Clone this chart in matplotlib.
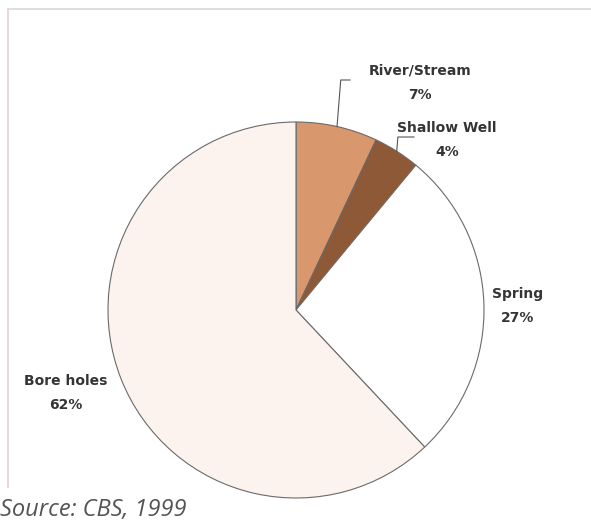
import numpy as np
import matplotlib
matplotlib.use("Agg")
import matplotlib.pyplot as plt
from matplotlib.patches import Wedge

categories = ["River/Stream", "Shallow Well", "Spring", "Bore holes"]
values = [7, 4, 27, 62]
colors = ["#d9976e", "#8e5936", "#ffffff", "#fdf3ee"]
source = "Source: CBS, 1999"

W, H = 591, 523
fig = plt.figure(figsize=(W / 100, H / 100), dpi=100)
ax = fig.add_axes([0, 0, 1, 1])
ax.axis("off")

cx, cy, R = 296, 310, 188
start = 90.0
total = sum(values)
mids = []
for v, c in zip(values, colors):
    span = 360.0 * v / total
    t1 = -start
    t2 = -start + span
    wd = Wedge((cx, cy), R, t1, t2, facecolor=c, edgecolor="#6a6a6a", linewidth=0.8)
    ax.add_patch(wd)
    mids.append(np.deg2rad((t1 + t2) / 2))
    start -= span

ax.set_aspect("equal")
ax.set_xlim(0, W)
ax.set_ylim(H, 0)

fs = 10
tc = "#353535"
fam = ["DejaVu Sans"]

def leader(i, elbow_y, end_x):
    a = mids[i]
    px, py = cx + R * np.cos(a), cy + R * np.sin(a)
    ex = px + (py - elbow_y) * 0.08
    ax.plot([px, ex, end_x], [py, elbow_y, elbow_y], color="#555555", lw=0.8)

leader(0, 80, 350)
leader(1, 137, 414)

labels_pos = [(420, 71), (447, 128), (518, 294), (66, 381)]
for (x, y), name, v in zip(labels_pos, categories, values):
    ax.text(x, y, name, ha="center", va="center", fontsize=fs, fontweight="bold",
            color=tc, family=fam)
    ax.text(x, y + 24, f"{v}%", ha="center", va="center", fontsize=fs,
            fontweight="bold", color=tc, family=fam)

ax.plot([8, 8], [487, 9], color="#e6cfcf", lw=1.2)
ax.plot([8, W], [9, 9], color="#d8d8d8", lw=1.2)

ax.text(0, 510, source, ha="left", va="center", fontsize=17, style="italic",
        color="#555555", family=["Open Sans", "DejaVu Sans"])

fig.savefig("out.png", dpi=100)
